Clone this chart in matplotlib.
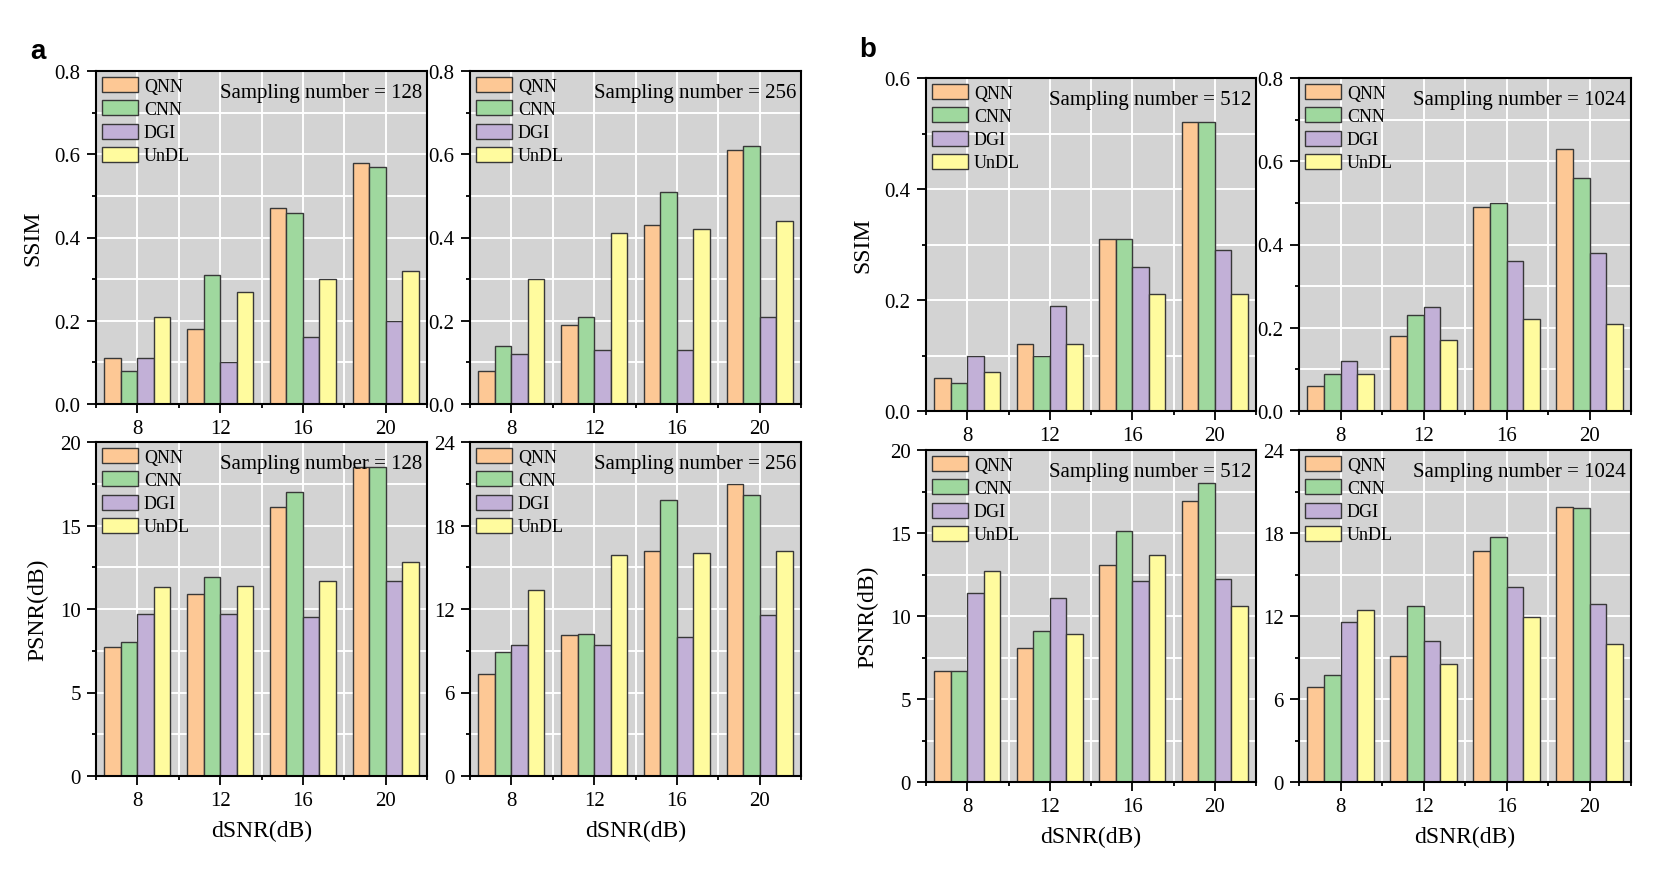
import matplotlib
matplotlib.use("Agg")
import matplotlib.pyplot as plt
import numpy as np
from matplotlib.ticker import MultipleLocator, FormatStrFormatter

plt.rcParams["font.family"] = ["Liberation Serif", "DejaVu Serif"]

snr = [8, 12, 16, 20]
methods = ["QNN", "CNN", "DGI", "UnDL"]
colors = ["#fdc895", "#9fd89e", "#c2b0d7", "#fffb9e"]

# rows: QNN, CNN, DGI, UnDL ; columns: dSNR 8, 12, 16, 20
ssim_128 = [[0.11, 0.18, 0.47, 0.58],
            [0.08, 0.31, 0.46, 0.57],
            [0.11, 0.10, 0.16, 0.20],
            [0.21, 0.27, 0.30, 0.32]]
ssim_256 = [[0.08, 0.19, 0.43, 0.61],
            [0.14, 0.21, 0.51, 0.62],
            [0.12, 0.13, 0.13, 0.21],
            [0.30, 0.41, 0.42, 0.44]]
psnr_128 = [[7.7, 10.9, 16.1, 18.5],
            [8.0, 11.9, 17.0, 18.5],
            [9.7, 9.7, 9.5, 11.7],
            [11.3, 11.35, 11.7, 12.8]]
psnr_256 = [[7.3, 10.1, 16.2, 21.0],
            [8.9, 10.2, 19.8, 20.2],
            [9.4, 9.4, 10.0, 11.6],
            [13.4, 15.9, 16.0, 16.2]]
ssim_512 = [[0.06, 0.12, 0.31, 0.52],
            [0.05, 0.10, 0.31, 0.52],
            [0.10, 0.19, 0.26, 0.29],
            [0.07, 0.12, 0.21, 0.21]]
ssim_1024 = [[0.06, 0.18, 0.49, 0.63],
             [0.09, 0.23, 0.50, 0.56],
             [0.12, 0.25, 0.36, 0.38],
             [0.09, 0.17, 0.22, 0.21]]
psnr_512 = [[6.7, 8.1, 13.1, 16.9],
            [6.7, 9.1, 15.1, 18.0],
            [11.4, 11.1, 12.1, 12.2],
            [12.7, 8.9, 13.7, 10.6]]
psnr_1024 = [[6.9, 9.1, 16.7, 19.85],
             [7.7, 12.7, 17.7, 19.8],
             [11.6, 10.2, 14.1, 12.9],
             [12.4, 8.5, 11.9, 10.0]]

W, H = 1660, 879
fig = plt.figure(figsize=(W / 100, H / 100), dpi=100)


def rect(l, t, r, b):
    return [l / W, 1 - b / H, (r - l) / W, (b - t) / H]


def panel(box, vals, ymax, major, fmt, n, ylabel=None, xlabel=None):
    ax = fig.add_axes(rect(*box))
    ax.set_facecolor("#d3d3d3")
    ax.set_axisbelow(True)
    x = np.array(snr, dtype=float)
    w = 0.8
    for i in range(4):
        ax.bar(x + (i - 1.5) * w, vals[i], w, color=colors[i],
               edgecolor="#383838", linewidth=1.0, label=methods[i])
    ax.set_xlim(6, 22)
    ax.set_ylim(0, ymax)
    ax.set_xticks(snr)
    ax.xaxis.set_minor_locator(MultipleLocator(2))
    ax.yaxis.set_major_locator(MultipleLocator(major))
    ax.yaxis.set_minor_locator(MultipleLocator(major / 2))
    ax.yaxis.set_major_formatter(FormatStrFormatter(fmt))
    ax.grid(True, which="both", color="white", linewidth=1.4)
    ax.tick_params(which="both", direction="out", width=1.3, labelsize=15,
                   top=False, right=False, pad=4.5)
    ax.tick_params(which="major", length=6.5)
    ax.tick_params(which="minor", length=3)
    for s in ax.spines.values():
        s.set_linewidth(1.5)
    ax.legend(loc="upper left", frameon=False, fontsize=13,
              handlelength=1.95, handleheight=0.9, handletextpad=0.35,
              labelspacing=0.3, borderpad=0.2, borderaxespad=0.15)
    ax.text(0.985, 0.935, f"Sampling number = {n}", transform=ax.transAxes,
            ha="right", va="center", fontsize=15)
    if ylabel:
        ax.set_ylabel(ylabel, fontsize=17, labelpad=8)
    if xlabel:
        ax.set_xlabel(xlabel, fontsize=17, labelpad=7)
    return ax


panel((96, 72, 427, 405), ssim_128, 0.8, 0.2, "%.1f", 128, ylabel="SSIM")
panel((470, 72, 801, 405), ssim_256, 0.8, 0.2, "%.1f", 256)
panel((96, 443, 427, 777), psnr_128, 20, 5, "%d", 128,
      ylabel="PSNR(dB)", xlabel="dSNR(dB)")
panel((470, 443, 801, 777), psnr_256, 24, 6, "%d", 256, xlabel="dSNR(dB)")

panel((926, 79, 1256, 412), ssim_512, 0.6, 0.2, "%.1f", 512, ylabel="SSIM")
panel((1299, 79, 1631, 412), ssim_1024, 0.8, 0.2, "%.1f", 1024)
panel((926, 451, 1256, 783), psnr_512, 20, 5, "%d", 512,
      ylabel="PSNR(dB)", xlabel="dSNR(dB)")
panel((1299, 451, 1631, 783), psnr_1024, 24, 6, "%d", 1024, xlabel="dSNR(dB)")

fig.text(38 / W, 1 - 52 / H, "a", fontsize=20, fontweight="bold",
         family="Liberation Sans", ha="center", va="center")
fig.text(868 / W, 1 - 50 / H, "b", fontsize=20, fontweight="bold",
         family="Liberation Sans", ha="center", va="center")

fig.savefig("out.png", dpi=100)
